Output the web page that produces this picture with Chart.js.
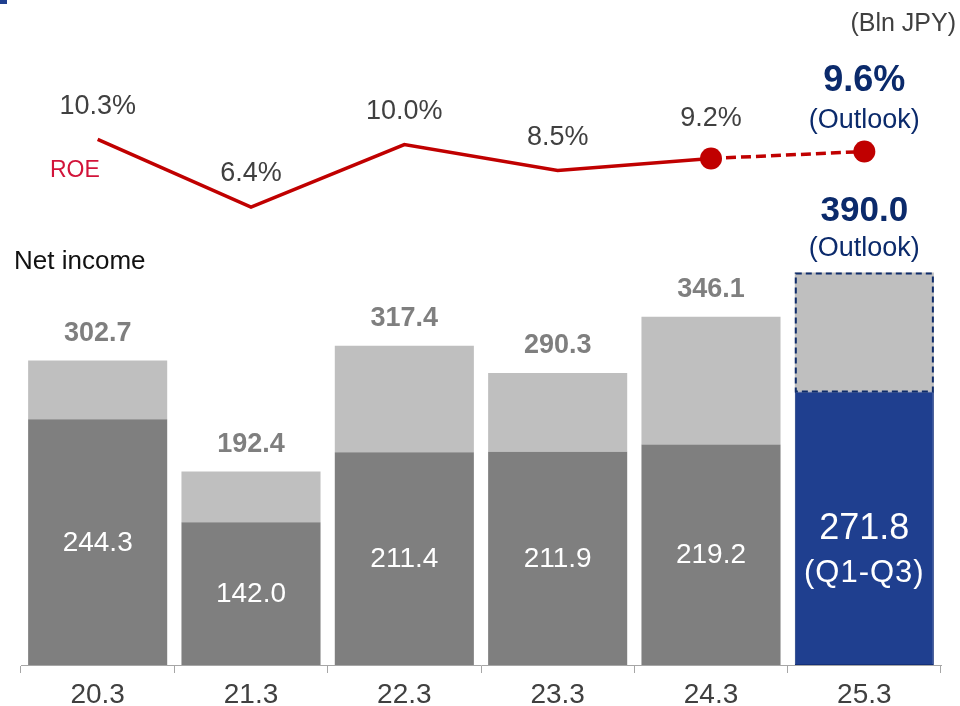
<!DOCTYPE html>
<html>
<head>
<meta charset="utf-8">
<script src="https://cdn.jsdelivr.net/npm/chart.js@4/dist/chart.umd.min.js"></script>
<style>
  html, body { margin: 0; padding: 0; background: #fff; }
  canvas { display: block; }
</style>
</head>
<body>
<canvas id="netIncome" width="960" height="706"></canvas>
<script>
var years = ['20.3', '21.3', '22.3', '23.3', '24.3', '25.3'];
var netIncomeQ1Q3 = [244.3, 142.0, 211.4, 211.9, 219.2, 271.8];
var netIncomeFull = [302.7, 192.4, 317.4, 290.3, 346.1, 390.0];
var roe = [10.3, 6.4, 10.0, 8.5, 9.2, 9.6];

var FONT = '"Liberation Sans", Arial, sans-serif';
var NAVY = '#0b2a6b';
var GREY_TEXT = '#404040';

// upper part of each bar = full year minus Q1-Q3
var netIncomeRest = netIncomeFull.map((v, i) => Math.round((v - netIncomeQ1Q3[i]) * 10) / 10);
var lastIdx = years.length - 1;

function drawText(ctx, s, x, y, size, color, bold, align) {
    ctx.font = (bold ? 'bold ' : '') + size + 'px ' + FONT;
    ctx.fillStyle = color;
    ctx.textAlign = align || 'center';
    ctx.textBaseline = 'middle';
    ctx.fillText(s, x, y);
}

var labelPlugin = {
    id: 'valueLabels',
    afterDatasetsDraw(chart) {
        var ctx = chart.ctx;
        var lower = chart.getDatasetMeta(0).data;
        var upper = chart.getDatasetMeta(1).data;
        var points = chart.getDatasetMeta(2).data;
        ctx.save();

        // dashed outline round the outlook part of the last bar
        var ob = upper[lastIdx];
        ctx.strokeStyle = '#0f2d6b';
        ctx.lineWidth = 2;
        ctx.setLineDash([6, 4]);
        ctx.strokeRect(ob.x - ob.width / 2 + 1, ob.y + 1, ob.width - 2, ob.base - ob.y - 1);
        ctx.setLineDash([]);

        // values inside the Q1-Q3 part
        lower.forEach((bar, i) => {
            var mid = (bar.y + bar.base) / 2;
            if (i === lastIdx) {
                drawText(ctx, netIncomeQ1Q3[i].toFixed(1), bar.x, mid + 1, 36, '#fff');
                ctx.save();
                ctx.letterSpacing = '1px';
                drawText(ctx, '(Q1-Q3)', bar.x, mid + 45, 31, '#fff');
                ctx.restore();
            } else {
                drawText(ctx, netIncomeQ1Q3[i].toFixed(1), bar.x, mid + 1, 28, '#fff');
            }
        });

        // full-year totals above the bars
        upper.forEach((bar, i) => {
            if (i === lastIdx) {
                drawText(ctx, netIncomeFull[i].toFixed(1), bar.x, bar.y - 61, 35, NAVY, true);
                drawText(ctx, '(Outlook)', bar.x, bar.y - 24, 27, NAVY);
            } else {
                drawText(ctx, netIncomeFull[i].toFixed(1), bar.x, bar.y - 27, 27, '#7f7f7f', true);
            }
        });

        // ROE labels
        points.forEach((pt, i) => {
            if (i === lastIdx) {
                drawText(ctx, roe[i].toFixed(1) + '%', pt.x, pt.y - 70, 36, NAVY, true);
                drawText(ctx, '(Outlook)', pt.x, pt.y - 31, 27, NAVY);
            } else {
                var off = i === lastIdx - 1 ? 40 : 33;
                drawText(ctx, roe[i].toFixed(1) + '%', pt.x, pt.y - off, 27, GREY_TEXT);
            }
        });

        drawText(ctx, 'ROE', 50, 171, 23, '#d2143a', false, 'left');
        drawText(ctx, 'Net income', 14, 262, 26, '#111', false, 'left');
        drawText(ctx, '(Bln JPY)', 956, 24, 25, GREY_TEXT, false, 'right');

        ctx.fillStyle = '#1f3f8f';
        ctx.fillRect(0, 0, 7, 4);
        ctx.restore();
    }
};

new Chart(document.getElementById('netIncome').getContext('2d'), {
    data: {
        labels: years,
        datasets: [
            {
                type: 'bar',
                label: 'Q1-Q3',
                data: netIncomeQ1Q3,
                backgroundColor: years.map((y, i) => i === lastIdx ? '#1f3f8f' : '#7f7f7f'),
                borderColor: years.map((y, i) => i === lastIdx ? '#14307a' : '#7f7f7f'),
                borderWidth: years.map((y, i) => i === lastIdx ? 1 : 0),
                borderSkipped: false,
                stack: 'ni',
                yAxisID: 'y',
                order: 2
            },
            {
                type: 'bar',
                label: 'Q4',
                data: netIncomeRest,
                backgroundColor: '#bfbfbf',
                borderWidth: 0,
                stack: 'ni',
                yAxisID: 'y',
                order: 2
            },
            {
                type: 'line',
                label: 'ROE',
                data: roe,
                yAxisID: 'y2',
                borderColor: '#c00000',
                borderWidth: 3.5,
                pointRadius: years.map((y, i) => i >= lastIdx - 1 ? 11 : 0),
                pointBackgroundColor: '#c00000',
                pointBorderColor: '#c00000',
                pointBorderWidth: 0,
                segment: {
                    borderDash: c => c.p0DataIndex === lastIdx - 1 ? [10, 5] : undefined
                },
                order: 1
            }
        ]
    },
    options: {
        responsive: false,
        animation: false,
        layout: { padding: { top: 8, left: 21, right: 19, bottom: 0 } },
        datasets: {
            bar: { categoryPercentage: 0.907, barPercentage: 1 }
        },
        plugins: {
            legend: { display: false },
            tooltip: { enabled: false }
        },
        scales: {
            x: {
                stacked: true,
                offset: true,
                grid: {
                    offset: true,
                    drawOnChartArea: false,
                    drawTicks: true,
                    tickLength: 8,
                    color: '#a6a6a6'
                },
                border: { display: true, color: '#a6a6a6', width: 1 },
                ticks: {
                    color: GREY_TEXT,
                    font: { family: FONT, size: 28 },
                    padding: 5,
                    maxRotation: 0
                },
                afterFit(scale) { scale.height = 41; }
            },
            y: {
                stacked: true,
                display: false,
                min: 0,
                max: 650
            },
            y2: {
                display: false,
                min: -20,
                max: 17.7
            }
        }
    },
    plugins: [labelPlugin]
});
</script>
</body>
</html>
